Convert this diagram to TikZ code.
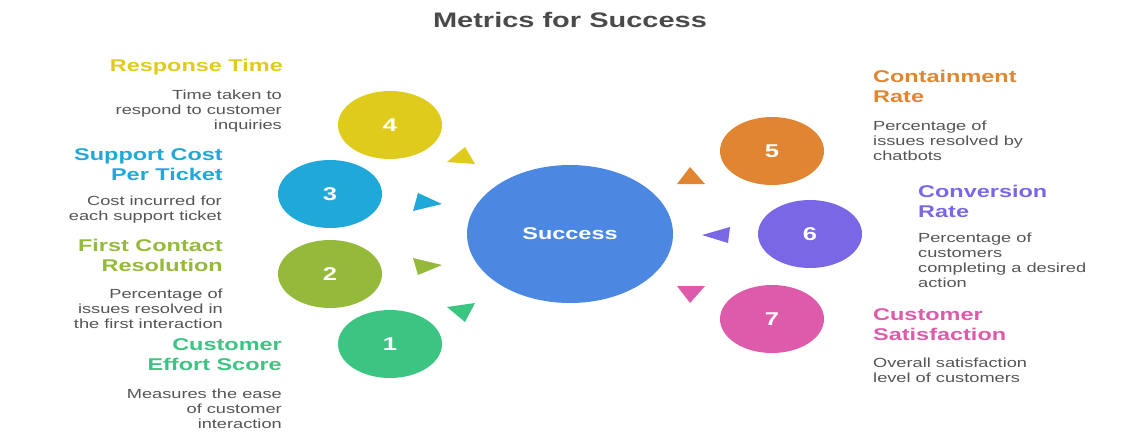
\documentclass[tikz,border=0pt]{standalone}
\usepackage{fontspec}
\setmainfont{Liberation Sans}[FakeStretch=1.38]
\usetikzlibrary{shapes.geometric}
\definecolor{cTitle}{HTML}{4A4A4A}
\definecolor{cBody}{HTML}{555555}
\definecolor{cCenter}{HTML}{4C87E2}
\definecolor{cOne}{HTML}{3CC482}
\definecolor{cTwo}{HTML}{95B93A}
\definecolor{cThree}{HTML}{20A8D8}
\definecolor{cFour}{HTML}{DFCB1B}
\definecolor{cFive}{HTML}{E08531}
\definecolor{cSix}{HTML}{7A67E6}
\definecolor{cSeven}{HTML}{DE5AAA}
\tikzset{
  metric/.style={ellipse, minimum width=104pt, minimum height=68pt, inner sep=0pt, fill=#1, text=white,
    font=\fontsize{18.5}{20}\selectfont\bfseries},
  hub/.style={ellipse, minimum width=206pt, minimum height=138pt, inner sep=0pt, fill=cCenter, text=white,
    font=\fontsize{17}{20}\selectfont\bfseries},
  headL/.style={anchor=east, align=right, inner sep=0pt, text=#1, font=\fontsize{17}{20}\selectfont\bfseries},
  headR/.style={anchor=west, align=left, inner sep=0pt, text=#1, font=\fontsize{17}{20}\selectfont\bfseries},
  descL/.style={anchor=east, align=right, inner sep=0pt, text=cBody, font=\fontsize{13.2}{15}\selectfont},
  descR/.style={anchor=west, align=left, inner sep=0pt, text=cBody, font=\fontsize{13.2}{15}\selectfont},
}
\begin{document}
\begin{tikzpicture}[x=1pt,y=-1pt]
\useasboundingbox (0,0) rectangle (1140,440);
\node[text=cTitle, font=\fontsize{21}{24}\selectfont\bfseries] (title) at (570,20) {Metrics for Success};

\node[hub] (hub) at (570,234) {Success};
\node[metric=cFour] (m4) at (390,125) {4};
\node[metric=cThree] (m3) at (330,194) {3};
\node[metric=cTwo] (m2) at (330,274) {2};
\node[metric=cOne] (m1) at (390,344) {1};
\node[metric=cFive] (m5) at (772,151) {5};
\node[metric=cSix] (m6) at (810,234) {6};
\node[metric=cSeven] (m7) at (772,319) {7};

% arrowheads
\fill[cFour] (447,162) -- (465,147) -- (475,164) -- cycle;
\fill[cThree] (418,193) -- (413,211) -- (442,204) -- cycle;
\fill[cTwo] (413,258) -- (442,265) -- (418,275) -- cycle;
\fill[cOne] (447,307) -- (475,303) -- (465,322) -- cycle;
\fill[cFive] (677,184) -- (705,184) -- (690,167) -- cycle;
\fill[cSix] (702,235) -- (730,227) -- (728,243) -- cycle;
\fill[cSeven] (677,286) -- (705,286) -- (690,303) -- cycle;

% left texts
\node[headL=cFour] (h4) at (283,67) {Response Time};
\node[descL] (d4) at (282,111) {Time taken to\\respond to customer\\inquiries};
\node[headL=cThree] (h3) at (223,165) {Support Cost\\Per Ticket};
\node[descL] (d3) at (222,210) {Cost incurred for\\each support ticket};
\node[headL=cTwo] (h2) at (223,255) {First Contact\\Resolution};
\node[descL] (d2) at (223,309) {Percentage of\\issues resolved in\\the first interaction};
\node[headL=cOne] (h1) at (282,355) {Customer\\Effort Score};
\node[descL] (d1) at (282,409) {Measures the ease\\of customer\\interaction};

% right texts
\node[headR=cFive] (h5) at (873,86) {Containment\\Rate};
\node[descR] (d5) at (873,141) {Percentage of\\issues resolved by\\chatbots};
\node[headR=cSix] (h6) at (918,201) {Conversion\\Rate};
\node[descR] (d6) at (918,260) {Percentage of\\customers\\completing a desired\\action};
\node[headR=cSeven] (h7) at (873,325) {Customer\\Satisfaction};
\node[descR] (d7) at (873,370) {Overall satisfaction\\level of customers};
\end{tikzpicture}
\end{document}
